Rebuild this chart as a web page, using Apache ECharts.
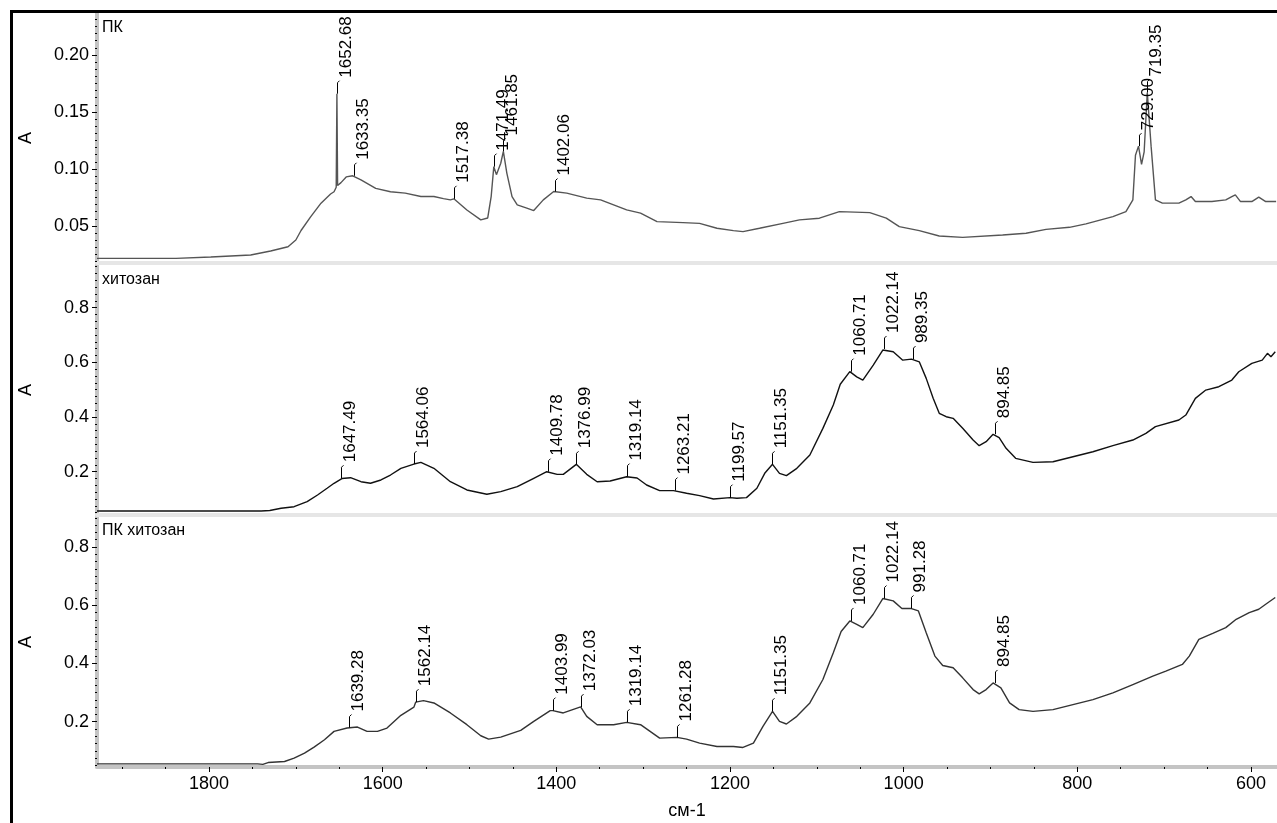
<!DOCTYPE html>
<html>
<head>
<meta charset="utf-8">
<title>ИК-спектры</title>
<script src="https://cdn.jsdelivr.net/npm/echarts@6/dist/echarts.min.js"></script>
<style>
  html, body { margin: 0; padding: 0; background: #fff; }
  #chart { width: 1277px; height: 823px; }
</style>
</head>
<body>
<div id="chart"></div>
<script>
// ПК spectrum
const wnPK = [1929, 1838, 1798, 1752, 1729, 1709, 1700, 1694, 1683, 1671, 1660, 1656, 1653.5, 1652.7, 1651.9,
  1648, 1642, 1634.5, 1625, 1608, 1591, 1574, 1556, 1541, 1530, 1522, 1518, 1503, 1487, 1479, 1475, 1472,
  1469, 1464, 1461, 1457, 1451, 1445, 1434, 1426, 1415, 1403, 1388, 1365, 1349, 1334, 1319, 1303, 1284,
  1254, 1235, 1215, 1196, 1185, 1166, 1139, 1120, 1097, 1074, 1039, 1020, 1005, 982, 959, 932, 886, 859,
  836, 809, 790, 759, 744, 736, 733, 729.5, 726, 723, 719.4, 715, 710, 702, 683, 675, 669, 664, 645, 629,
  622, 618, 612, 599, 591, 583, 571];
const absPK = [0.0216, 0.0216, 0.0228, 0.0245, 0.028, 0.0318, 0.0377, 0.046, 0.058, 0.070, 0.078, 0.080, 0.084, 0.166, 0.0855,
  0.088, 0.093, 0.094, 0.0905, 0.083, 0.080, 0.0788, 0.0758, 0.0758, 0.074, 0.0729, 0.0738, 0.064, 0.0553, 0.057, 0.076, 0.102,
  0.095, 0.105, 0.1154, 0.0964, 0.0758, 0.0685, 0.0656, 0.0635, 0.0729, 0.0802, 0.0788, 0.0744, 0.0729, 0.0685, 0.0641, 0.0612, 0.0538,
  0.0529, 0.0523, 0.048, 0.0459, 0.045, 0.048, 0.0523, 0.0553, 0.0568, 0.0626, 0.0617, 0.0568, 0.0494, 0.0459, 0.0412, 0.040, 0.0421, 0.0436,
  0.047, 0.0488, 0.0518, 0.0582, 0.0626, 0.0729, 0.112, 0.12, 0.104, 0.115, 0.167, 0.12, 0.0729, 0.070, 0.070, 0.0729, 0.0758, 0.0714, 0.0714, 0.0729,
  0.0758, 0.0773, 0.0714, 0.0714, 0.0753, 0.0714, 0.0714];
const peakWnPK = [1652.68, 1633.35, 1517.38, 1471.49, 1461.85, 1402.06, 729.00, 719.35];
const peakAbsPK = [0.166, 0.094, 0.0738, 0.102, 0.1154, 0.0802, 0.12, 0.167];

// хитозан spectrum
const wnCh = [1929, 1740, 1730, 1717, 1702, 1687, 1675, 1664, 1656, 1647, 1637, 1625, 1614, 1602, 1591, 1579,
  1564, 1556, 1541, 1522, 1503, 1480, 1464, 1445, 1426, 1411, 1399, 1392, 1377, 1365, 1353, 1338, 1319,
  1307, 1296, 1281, 1265, 1250, 1235, 1219, 1200, 1192, 1181, 1169, 1160, 1151, 1143, 1135, 1123, 1108,
  1093, 1081, 1073, 1062, 1054, 1047, 1035, 1024, 1022, 1012, 1001, 991, 982, 974, 966, 959, 951, 943,
  932, 920, 913, 905, 897, 890, 882, 871, 851, 828, 805, 782, 759, 736, 721, 710, 683, 675, 664, 652,
  637, 622, 614, 599, 587, 581, 577, 572];
const absCh = [0.0563, 0.0563, 0.058, 0.0662, 0.072, 0.0903, 0.1148, 0.1393, 0.1576, 0.175, 0.1781, 0.1634, 0.1576, 0.1697, 0.1879, 0.2124,
  0.228, 0.2343, 0.2124, 0.1634, 0.1331, 0.1174, 0.1269, 0.1452, 0.1759, 0.200, 0.1903, 0.1903, 0.227, 0.1903, 0.1634, 0.166, 0.1817,
  0.177, 0.1514, 0.1306, 0.1306, 0.121, 0.1123, 0.1002, 0.1051, 0.1027, 0.1051, 0.1393, 0.1941, 0.227, 0.1941, 0.1854, 0.2124, 0.261,
  0.3585, 0.444, 0.52, 0.566, 0.547, 0.535, 0.59, 0.645, 0.649, 0.639, 0.608, 0.612, 0.602, 0.5415, 0.4684, 0.4135, 0.4011, 0.3952,
  0.3587, 0.3159, 0.2952, 0.3097, 0.3367, 0.3243, 0.2856, 0.249, 0.2343, 0.2366, 0.2548, 0.2731, 0.2952, 0.3159, 0.3403, 0.3647, 0.389, 0.4073, 0.4684, 0.4987,
  0.5109, 0.5353, 0.5656, 0.5964, 0.6083, 0.6329, 0.6205, 0.6388];
const peakWnCh = [1647.49, 1564.06, 1409.78, 1376.99, 1319.14, 1263.21, 1199.57, 1151.35, 1060.71, 1022.14, 989.35, 894.85];
const peakAbsCh = [0.176, 0.228, 0.200, 0.227, 0.182, 0.131, 0.105, 0.227, 0.566, 0.649, 0.612, 0.337];

// ПК хитозан spectrum
const wnMix = [1929, 1744, 1738, 1732, 1713, 1702, 1690, 1679, 1667, 1656, 1641, 1629, 1618, 1606, 1595, 1579,
  1564, 1562, 1553, 1541, 1522, 1503, 1487, 1478, 1464, 1441, 1426, 1407, 1404, 1392, 1372, 1365, 1353,
  1334, 1319, 1303, 1292, 1281, 1261, 1250, 1235, 1215, 1196, 1185, 1173, 1162, 1151, 1143, 1135, 1123,
  1108, 1093, 1081, 1072, 1062, 1054, 1047, 1035, 1024, 1012, 1002, 991, 983, 974, 964, 955, 943, 932,
  920, 913, 905, 897, 888, 878, 867, 851, 828, 805, 782, 759, 736, 713, 698, 679, 671, 660, 644, 629,
  617, 602, 591, 583, 572];
const absMix = [0.0552, 0.0552, 0.0535, 0.0597, 0.0632, 0.0747, 0.092, 0.1126, 0.1379, 0.1667, 0.1782, 0.1816, 0.1667, 0.1667, 0.1782, 0.222,
  0.25, 0.267, 0.2724, 0.2644, 0.23, 0.1897, 0.1517, 0.1402, 0.1471, 0.17, 0.201, 0.2379, 0.238, 0.23, 0.2506, 0.2184, 0.1897,
  0.1897, 0.1977, 0.1897, 0.1667, 0.1437, 0.146, 0.1402, 0.1264, 0.1149, 0.1149, 0.1115, 0.1264, 0.1839, 0.2356, 0.201, 0.192, 0.2184,
  0.2644, 0.3448, 0.4368, 0.51, 0.546, 0.5345, 0.523, 0.569, 0.623, 0.6149, 0.5885, 0.5885, 0.5805, 0.5057, 0.4253, 0.3931, 0.3851, 0.3506,
  0.3103, 0.2954, 0.3103, 0.3333, 0.3161, 0.2644, 0.2414, 0.2356, 0.2414, 0.2586, 0.2759, 0.2989, 0.3276, 0.3563, 0.3736, 0.3966, 0.4253, 0.4828, 0.5034, 0.523,
  0.5517, 0.5747, 0.5862, 0.6034, 0.6264];
const peakWnMix = [1639.28, 1562.14, 1403.99, 1372.03, 1319.14, 1261.28, 1151.35, 1060.71, 1022.14, 991.28, 894.85];
const peakAbsMix = [0.18, 0.267, 0.238, 0.25, 0.198, 0.146, 0.236, 0.546, 0.623, 0.589, 0.333];

const panelNames = ['ПК', 'хитозан', 'ПК хитозан'];
const xTicks = [1800, 1600, 1400, 1200, 1000, 800, 600];
const yTicksPK = [0.05, 0.10, 0.15, 0.20];
const yTicksCh = [0.2, 0.4, 0.6, 0.8];
const yTicksMix = [0.2, 0.4, 0.6, 0.8];

const FONT = '"Liberation Sans", Arial, sans-serif';
const AXIS_GRAY = '#c4c4c4';
const SEP_GRAY = '#e6e6e6';

const xRange = { min: 570, max: 1929 };
const yRanges = [
  { min: 0.0175, max: 0.2368 },
  { min: 0.0416, max: 0.9562 },
  { min: 0.0444, max: 0.9030 }
];
const gridTops = [13, 265, 517];
const GRID_H = 250;

function pairs(xs, ys) {
  return xs.map((x, i) => [x, ys[i]]);
}

// minor tick positions between the labelled ticks
function minorValues(range, step) {
  const out = [];
  const k0 = Math.ceil(range.min / step - 1e-9);
  const k1 = Math.floor(range.max / step + 1e-9);
  for (let k = k0; k <= k1; k++) out.push(+(k * step).toFixed(6));
  return out;
}

function peakRenderer(labels) {
  return function (params, api) {
    const p = api.coord([api.value(0), api.value(1)]);
    const x = Math.round(p[0]) + 0.5;
    const y = p[1];
    return {
      type: 'group',
      children: [
        {
          type: 'polyline',
          shape: { points: [[x, y], [x, y - 11], [x + 2, y - 13]] },
          style: { stroke: '#000', lineWidth: 1, fill: null }
        },
        {
          type: 'text',
          x: x + 9,
          y: y - 16,
          rotation: Math.PI / 2,
          style: {
            text: labels[params.dataIndex],
            fill: '#000',
            font: '17px ' + FONT,
            align: 'left',
            verticalAlign: 'middle'
          }
        }
      ]
    };
  };
}

const chart = echarts.init(document.getElementById('chart'), null, { renderer: 'canvas' });

const grids = gridTops.map(t => ({ left: 97, right: 0, top: t, height: GRID_H }));

const xAxes = [0, 1, 2].map(i => ({
  type: 'value',
  gridIndex: i,
  inverse: true,
  min: xRange.min,
  max: xRange.max,
  position: 'bottom',
  splitLine: { show: false },
  axisLine: { show: true, lineStyle: { color: i === 2 ? AXIS_GRAY : SEP_GRAY, width: 4 } },
  axisTick: i === 2
    ? { show: true, customValues: xTicks, length: 5, lineStyle: { color: '#000', width: 1 } }
    : { show: false },
  axisLabel: i === 2
    ? { show: true, customValues: xTicks, margin: 8, color: '#000', fontSize: 18, fontFamily: FONT,
        formatter: v => String(Math.round(v)) }
    : { show: false },
  name: i === 2 ? 'см-1' : '',
  nameLocation: 'middle',
  nameGap: 35,
  nameTextStyle: { color: '#000', fontSize: 18, fontFamily: FONT }
}));
// minor x ticks
xAxes.push({
  type: 'value',
  gridIndex: 2,
  inverse: true,
  min: xRange.min,
  max: xRange.max,
  position: 'bottom',
  splitLine: { show: false },
  axisLine: { show: false },
  axisLabel: { show: false },
  axisTick: { show: true, customValues: minorValues(xRange, 50), length: 2, lineStyle: { color: '#000' } }
});

const yTickSets = [yTicksPK, yTicksCh, yTicksMix];
const minorSteps = [0.00625, 0.025, 0.025];
const yAxes = [];
[0, 1, 2].forEach(i => {
  yAxes.push({
    type: 'value',
    gridIndex: i,
    position: 'left',
    min: yRanges[i].min,
    max: yRanges[i].max,
    splitLine: { show: false },
    axisLine: { show: true, lineStyle: { color: AXIS_GRAY, width: 4 } },
    axisTick: { show: true, customValues: yTickSets[i], length: 5, lineStyle: { color: '#000' } },
    axisLabel: {
      show: true,
      customValues: yTickSets[i],
      margin: 8,
      color: '#000',
      fontSize: 18,
      fontFamily: FONT,
      formatter: v => (i === 0 ? v.toFixed(2) : v.toFixed(1))
    },
    name: 'A',
    nameLocation: 'middle',
    nameRotate: 90,
    nameGap: 62,
    nameTextStyle: { color: '#000', fontSize: 18, fontFamily: FONT }
  });
  yAxes.push({
    type: 'value',
    gridIndex: i,
    position: 'left',
    min: yRanges[i].min,
    max: yRanges[i].max,
    splitLine: { show: false },
    axisLine: { show: false },
    axisLabel: { show: false },
    axisTick: { show: true, customValues: minorValues(yRanges[i], minorSteps[i]), length: 2, lineStyle: { color: '#000' } }
  });
});

const spectra = [
  { xs: wnPK, ys: absPK, color: '#555555', px: peakWnPK, py: peakAbsPK },
  { xs: wnCh, ys: absCh, color: '#111111', px: peakWnCh, py: peakAbsCh },
  { xs: wnMix, ys: absMix, color: '#333333', px: peakWnMix, py: peakAbsMix }
];

const series = [];
spectra.forEach((s, i) => {
  series.push({
    type: 'line',
    name: panelNames[i],
    xAxisIndex: i,
    yAxisIndex: i * 2,
    data: pairs(s.xs, s.ys),
    showSymbol: false,
    symbol: 'none',
    lineStyle: { color: s.color, width: 1.4 },
    z: 3
  });
  series.push({
    type: 'custom',
    xAxisIndex: i,
    yAxisIndex: i * 2,
    clip: false,
    data: pairs(s.px, s.py),
    renderItem: peakRenderer(s.px.map(v => v.toFixed(2))),
    z: 4
  });
});

const option = {
  animation: false,
  backgroundColor: '#ffffff',
  textStyle: { fontFamily: FONT },
  grid: grids,
  xAxis: xAxes,
  yAxis: yAxes,
  series: series,
  graphic: [
    {
      type: 'rect',
      shape: { x: 11.5, y: 11.5, width: 1400, height: 1000 },
      style: { fill: null, stroke: '#000', lineWidth: 3 },
      silent: true,
      z: 100
    },
    { type: 'text', left: 102, top: 20, style: { text: panelNames[0], font: '16px ' + FONT, fill: '#000' }, z: 100 },
    { type: 'text', left: 102, top: 272, style: { text: panelNames[1], font: '16px ' + FONT, fill: '#000' }, z: 100 },
    { type: 'text', left: 102, top: 523, style: { text: panelNames[2], font: '16px ' + FONT, fill: '#000' }, z: 100 }
  ]
};

chart.setOption(option);
</script>
</body>
</html>
